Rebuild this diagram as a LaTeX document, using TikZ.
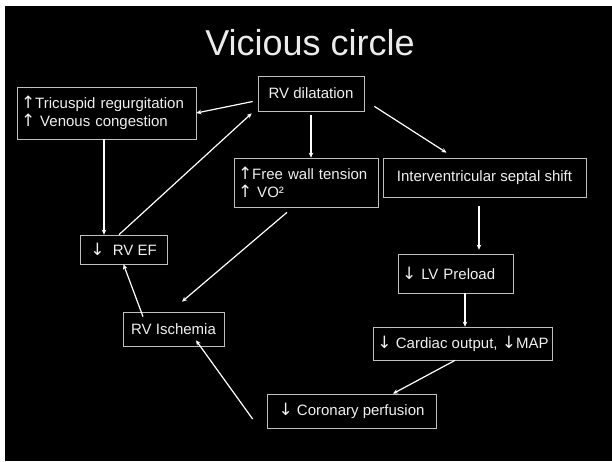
\documentclass[tikz,border=0pt]{standalone}
\usepackage{fontspec}
\setmainfont{Liberation Sans}
\newfontfamily\arrfont{DejaVu Sans}
\newcommand{\uparr}{{\arrfont\fontsize{17}{18}\selectfont ↑}}
\newcommand{\dnarr}{{\arrfont\fontsize{17}{18}\selectfont ↓}}
\usetikzlibrary{arrows.meta}

\tikzset{
  box/.style={draw=black!25, line width=0.7pt, text=black!6, inner xsep=4pt,
    font=\fontsize{15}{18}\selectfont, minimum height=#1},
  box/.default=34pt,
  arr/.style={draw=white, line width=1.2pt, -{Stealth[length=5pt,width=4.5pt]}}
}

\begin{document}
\begin{tikzpicture}[x=1pt,y=-1pt]
  \useasboundingbox (0,0) rectangle (612,461);
  \fill[white] (0,0) rectangle (612,461);
  \fill[black] (5,6) rectangle (612,461);

  \node[text=black!8,font=\fontsize{36}{40}\selectfont] (title) at (310,43) {Vicious circle};

  \node[box=35pt,minimum width=106pt] (dil) at (311,93.5) {RV dilatation};
  \node[box=52pt,text width=171pt,align=left] (tri) at (106.5,113)
    {\uparr Tricuspid regurgitation\\\uparr\ Venous congestion};
  \node[box=49pt,text width=136pt,align=left] (fwt) at (306,182.5)
    {\uparr Free wall tension\\\uparr\ VO²};
  \node[box=39pt,minimum width=203pt] (ivs) at (484.5,177.5) {Interventricular septal shift};
  \node[box=29pt,minimum width=87pt] (rvef) at (123.5,249.5) {\dnarr\ \ RV EF};
  \node[box=39pt,text width=107pt,align=left] (lvp) at (455.5,273.5) {\dnarr\ LV Preload};
  \node[box=33pt,minimum width=178pt] (co) at (463,343.5) {\dnarr\ Cardiac output, \dnarr MAP};
  \node[box=34pt,minimum width=101pt] (isch) at (173.5,329) {RV Ischemia};
  \node[box=34pt,minimum width=169pt] (cor) at (351.5,411) {\dnarr\ Coronary perfusion};

  \draw[arr] ([xshift=-5pt,yshift=-8pt]dil.west) to (tri.east);
  \draw[arr] ([xshift=-2.5pt]tri.south) to ([xshift=-2.5pt]tri.south |- rvef.north);
  \draw[arr] ([xshift=-4.5pt]rvef.north) to ([xshift=-6pt,yshift=-2pt]dil.south west);
  \draw[arr,shorten <=4pt] (dil.south) to (dil.south |- fwt.north);
  \draw[arr] ([xshift=10pt,yshift=5pt]dil.south east) to ([xshift=-38pt,yshift=5pt]ivs.north);
  \draw[arr,shorten <=9pt,shorten >=4pt] ([xshift=-5.5pt]ivs.south) to ([xshift=-5.5pt]ivs.south |- lvp.north);
  \draw[arr] ([xshift=9.5pt]lvp.south) to ([xshift=9.5pt]lvp.south |- co.north);
  \draw[arr] ([xshift=-8pt]co.south) to ([xshift=41.5pt]cor.north);
  \draw[arr] ([xshift=-14pt,yshift=-8pt]cor.west) to ([xshift=22.5pt,yshift=6pt]isch.south);
  \draw[arr] ([xshift=-30.5pt,yshift=-5pt]isch.north) to (rvef.south);
  \draw[arr] ([xshift=-19pt,yshift=-5pt]fwt.south) to ([xshift=8.5pt,yshift=10pt]isch.north);
\end{tikzpicture}
\end{document}
